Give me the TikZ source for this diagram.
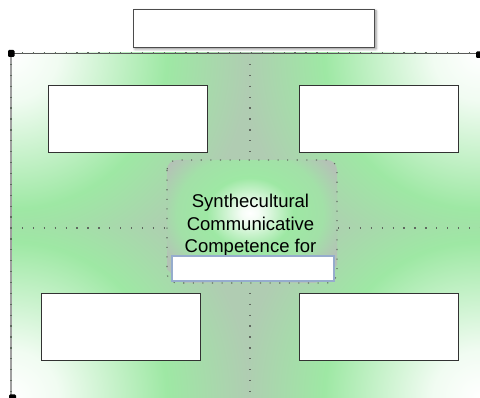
\documentclass[tikz,border=0pt]{standalone}
\usepackage{fontspec}
\setmainfont{Liberation Sans}
\usetikzlibrary{shadows,shadows.blur}
\definecolor{cgreen}{RGB}{158,232,164}
\definecolor{cgray}{RGB}{176,204,178}
\definecolor{cgrayb}{RGB}{180,194,182}
\definecolor{dotc}{RGB}{95,105,95}
\definecolor{boxc}{RGB}{50,50,50}
\definecolor{fieldc}{RGB}{150,172,205}
\pgfdeclareradialshading{quadshade}{\pgfpoint{0bp}{0bp}}{%
  color(0bp)=(white); color(4bp)=(white!85!cgreen); color(13bp)=(cgreen);
  color(20bp)=(cgray); color(50bp)=(cgray)}
\pgfdeclareradialshading{centershade}{\pgfpoint{0bp}{0bp}}{%
  color(0bp)=(white); color(2bp)=(white!90!cgreen); color(10bp)=(cgreen);
  color(17bp)=(cgreen!80!cgrayb); color(23bp)=(cgrayb); color(50bp)=(cgrayb)}
\tikzset{
  quadbox/.style={draw=boxc, line width=0.9pt, fill=white, inner sep=0pt},
  dotline/.style={draw=dotc, line width=1.3pt, dash pattern=on 1.3pt off 9.6pt},
  handle/.style={fill=black, rounded corners=1.2pt},
  captext/.style={font=\fontsize{18.5}{22.3}\selectfont, text=black, anchor=base, inner sep=0pt}
}
\begin{document}
\begin{tikzpicture}[x=1pt,y=-1pt]
\useasboundingbox (0,0) rectangle (480,398);
% quadrant shadings
\coordinate (c1) at (11,53);
\coordinate (c2) at (480,53);
\coordinate (c3) at (11,398);
\coordinate (c4) at (480,398);
\begin{scope}
  \clip (11,53) rectangle (250,228);
  \shade[shading=quadshade] (c1) circle (300);
\end{scope}
\begin{scope}
  \clip (250,53) rectangle (480,228);
  \shade[shading=quadshade] (c2) circle (300);
\end{scope}
\begin{scope}
  \clip (11,228) rectangle (250,398);
  \shade[shading=quadshade] (c3) circle (300);
\end{scope}
\begin{scope}
  \clip (250,228) rectangle (480,398);
  \shade[shading=quadshade] (c4) circle (300);
\end{scope}
% borders of main area
\draw[gray!75, line width=1.6pt] (c3) -- (c1);
\draw[gray!70!black, line width=0.7pt] (c1) -- (c2);
\draw[dotline, line width=1.1pt] (c1) -- (c2);
\draw[dotline, line width=1.1pt] (c1) -- (c3);
% dividers
\coordinate (vt) at (250,53);
\coordinate (vb) at (250,398);
\coordinate (hl) at (11,228);
\coordinate (hr) at (480,228);
\draw[dotline] (vt) -- (vb);
\draw[dotline] (hl) -- (hr);
% handles
\fill[handle] (8,50) rectangle (14.5,57);
\fill[handle] (476,51.5) rectangle (482.5,58);
\fill[handle] (9,394.5) rectangle (16,401);
% top box
\node[draw=gray!60!black, line width=0.9pt, fill=white, minimum width=241pt, minimum height=38pt, inner sep=0pt,
  blur shadow={shadow xshift=1.5pt, shadow yshift=-2pt, shadow blur radius=2.5pt, shadow opacity=45}] (top) at (254,28) {};
% quadrant boxes
\node[quadbox, minimum width=159pt, minimum height=67pt] (tl) at (128,118.5) {};
\node[quadbox, minimum width=159pt, minimum height=67pt] (tr) at (378.5,118.5) {};
\node[quadbox, minimum width=159pt, minimum height=67pt] (bl) at (120.5,327) {};
\node[quadbox, minimum width=159pt, minimum height=67pt] (br) at (378.5,327) {};
% center rounded rect
\begin{scope}
  \clip[rounded corners=10pt] (167,160) rectangle (337,283);
  \shade[shading=centershade] (250,213) ellipse (108 and 88);
\end{scope}
\draw[dotline, line width=1.1pt, dash pattern=on 1.1pt off 8.5pt, rounded corners=10pt] (167,160) rectangle (337,283);
\node[captext] (t1) at (250.5,207.5) {Synthecultural};
\node[captext] (t2) at (250.5,231) {Communicative};
\node[captext] (t3) at (250.5,253) {Competence for};
\node[draw=fieldc, line width=1.1pt, fill=white, minimum width=162pt, minimum height=25pt, inner sep=0pt] (field) at (253,268.5) {};
\end{tikzpicture}
\end{document}
